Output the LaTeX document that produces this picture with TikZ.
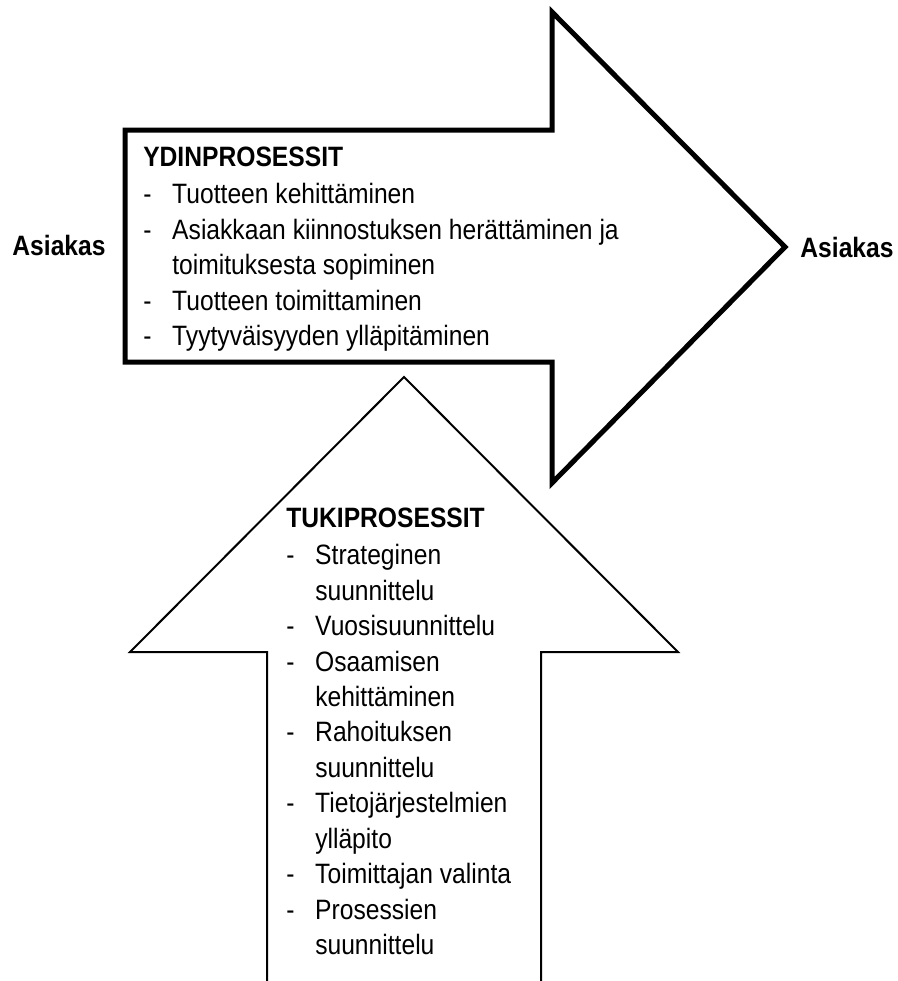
\documentclass[tikz,border=0pt]{standalone}
\usepackage{fontspec}
\setmainfont{Liberation Sans}[FakeStretch=0.88]
\usetikzlibrary{positioning}

\newcommand{\dashitem}[1]{\makebox[21.75pt][l]{-}#1}
\newcommand{\dashcont}[1]{\hspace*{21.75pt}#1}

\begin{document}
\begin{tikzpicture}[x=0.75pt,y=-0.75pt,
	ydin/.style={line width=3.75pt,fill=white},
	tuki/.style={line width=1.5pt,fill=white},
	lista/.style={align=left,inner sep=0pt,anchor=north west,font=\fontsize{21pt}{26.6pt}\selectfont},
	asiakas/.style={inner sep=0pt,font=\fontsize{21pt}{24pt}\selectfont\bfseries}]
	\useasboundingbox (0,0) rectangle (897,981);
	\draw [ydin] (125,130) -- (552,130) -- (552,12) -- (785,247) -- (552,483) -- (552,362) -- (125,362) -- cycle;
	\draw [tuki] (267,981) -- (267,652) -- (130,652) -- (404,377) -- (678,652) -- (541,652) -- (541,981);
	\node [lista] (ydinlista) at (143,147) {\textbf{YDINPROSESSIT}\\[1pt]
		\dashitem{Tuotteen kehittäminen}\\
		\dashitem{Asiakkaan kiinnostuksen herättäminen ja}\\
		\dashcont{toimituksesta sopiminen}\\
		\dashitem{Tuotteen toimittaminen}\\
		\dashitem{Tyytyväisyyden ylläpitäminen}};
	\node [lista] (tukilista) at (286,508) {\textbf{TUKIPROSESSIT}\\[1pt]
		\dashitem{Strateginen}\\
		\dashcont{suunnittelu}\\
		\dashitem{Vuosisuunnittelu}\\
		\dashitem{Osaamisen}\\
		\dashcont{kehittäminen}\\
		\dashitem{Rahoituksen}\\
		\dashcont{suunnittelu}\\
		\dashitem{Tietojärjestelmien}\\
		\dashcont{ylläpito}\\
		\dashitem{Toimittajan valinta}\\
		\dashitem{Prosessien}\\
		\dashcont{suunnittelu}};
	\node [asiakas] (asiakas1) at (59,245) {Asiakas};
	\node [asiakas] (asiakas2) at (847,247) {Asiakas};
\end{tikzpicture}
\end{document}
